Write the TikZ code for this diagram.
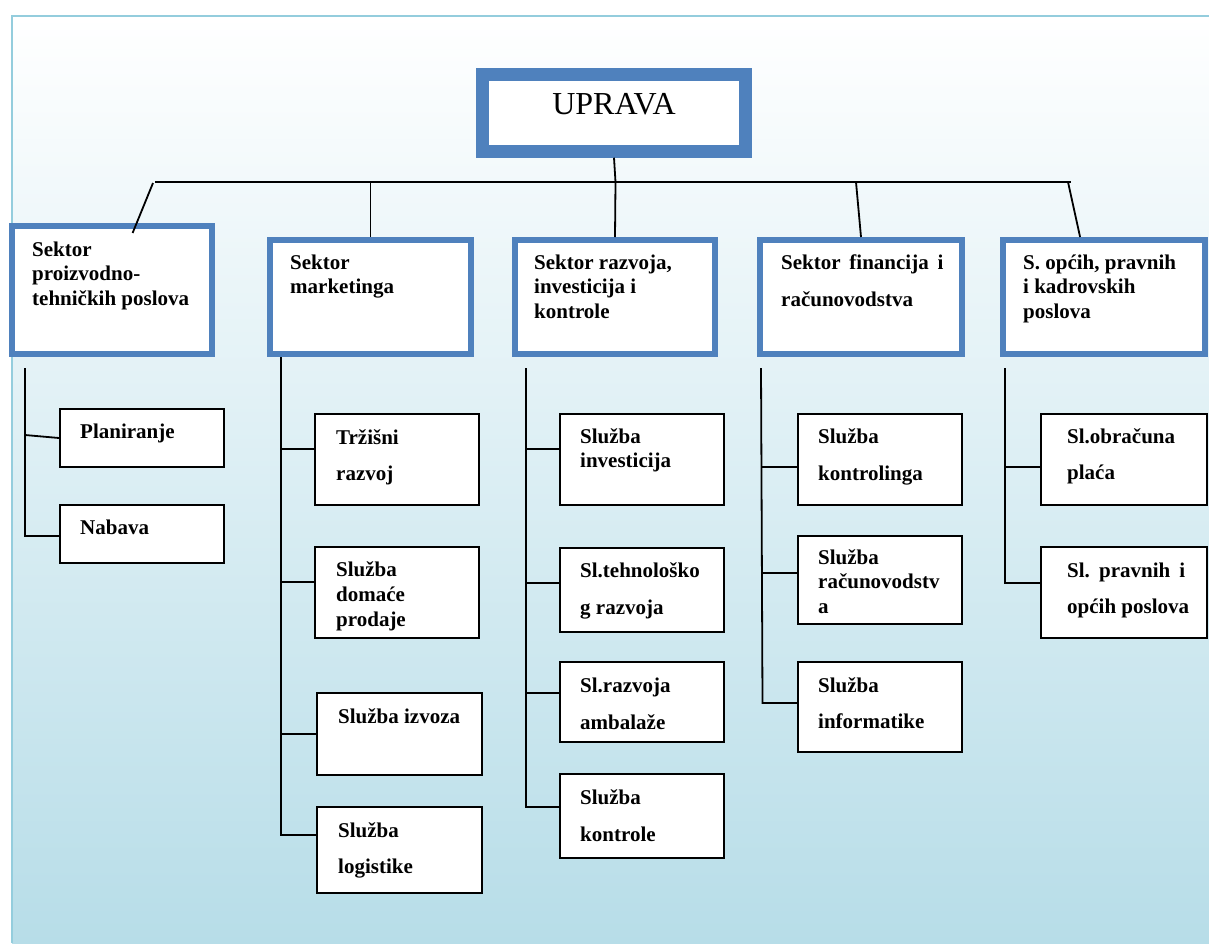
\documentclass[tikz,border=0pt]{standalone}
\usepackage{fontspec}
\setmainfont{Liberation Serif}
\usetikzlibrary{calc}
\definecolor{secblue}{HTML}{4F81BD}
\definecolor{framec}{HTML}{94CDDD}
\definecolor{bgbot}{HTML}{B7DDE8}
\frenchspacing
\begin{document}
\begin{tikzpicture}[x=1pt,y=-1pt,
  topbox/.style={draw=secblue, line width=13pt, fill=white, inner sep=0pt},
  secbox/.style={draw=secblue, line width=6pt, fill=white, inner sep=0pt},
  subbox/.style={draw=black, line width=2pt, fill=white, inner sep=0pt},
  lbl/.style={anchor=base west, inner sep=0pt, align=left, font=\fontsize{21}{24.7}\selectfont\bfseries},
  conn/.style={draw=black, line width=1.8pt}]
\useasboundingbox (0,0) rectangle (1209,943);
\fill[white] (0,0) rectangle (1209,943);
\shade[top color=white, bottom color=bgbot] (12,16) rectangle (1230,943);
\draw[framec, line width=2.2pt] (12,943) -- (12,16) -- (1230,16);

% top
\node[topbox, minimum width=263pt, minimum height=76.7pt] (upr) at (614,112.9) {};
\node[anchor=base, inner sep=0pt, font=\fontsize{32}{36}\selectfont] (uprt) at (614,114) {UPRAVA};

% sectors
\node[secbox, minimum width=200pt, minimum height=128pt] (s1) at (112,290) {};
\node[secbox, minimum width=201pt, minimum height=114pt] (s2) at (370.5,297) {};
\node[secbox, minimum width=200pt, minimum height=114pt] (s3) at (615,297) {};
\node[secbox, minimum width=202pt, minimum height=114pt] (s4) at (861,297) {};
\node[secbox, minimum width=202pt, minimum height=114pt] (s5) at (1104,297) {};

% (label positions are the baseline of the last line)
\node[lbl] (s1t) at (32,305.4) {Sektor\\proizvodno-\\tehničkih poslova};
\node[lbl] (s2t) at (290,293.7) {Sektor\\marketinga};
\node[lbl] (s3t) at (534,318.4) {Sektor razvoja,\\investicija i\\kontrole};
\node[lbl] (s4t) at (781,306) {Sektor\hspace{3.5pt} financija\hspace{3.5pt} i\\[12.3pt]računovodstva};
\node[lbl] (s5t) at (1023,318.4) {S. općih, pravnih\\i kadrovskih\\poslova};

% sub boxes
\node[subbox, minimum width=164pt, minimum height=58pt] (p1) at (142,438) {};
\node[subbox, minimum width=164pt, minimum height=58pt] (p2) at (142,534) {};
\node[subbox, minimum width=164pt, minimum height=91pt] (m1) at (397,459.5) {};
\node[subbox, minimum width=164pt, minimum height=91pt] (m2) at (397,592.5) {};
\node[subbox, minimum width=165pt, minimum height=82pt] (m3) at (399.5,734) {};
\node[subbox, minimum width=165pt, minimum height=86pt] (m4) at (399.5,850) {};
\node[subbox, minimum width=164pt, minimum height=91pt] (r1) at (642,459.5) {};
\node[subbox, minimum width=164pt, minimum height=84pt] (r2) at (642,590) {};
\node[subbox, minimum width=164pt, minimum height=80pt] (r3) at (642,702) {};
\node[subbox, minimum width=164pt, minimum height=84pt] (r4) at (642,816) {};
\node[subbox, minimum width=164pt, minimum height=91pt] (f1) at (880,459.5) {};
\node[subbox, minimum width=164pt, minimum height=88pt] (f2) at (880,580) {};
\node[subbox, minimum width=164pt, minimum height=90pt] (f3) at (880,707) {};
\node[subbox, minimum width=166pt, minimum height=91pt] (o1) at (1124,459.5) {};
\node[subbox, minimum width=166pt, minimum height=91pt] (o2) at (1124,592.5) {};

\node[lbl] (p1t) at (80,438) {Planiranje};
\node[lbl] (p2t) at (80,534) {Nabava};
\node[lbl] (m1t) at (336,480.7) {Tržišni\\[12pt]razvoj};
\node[lbl] (m2t) at (336,626.1) {Služba\\domaće\\prodaje};
\node[lbl] (m3t) at (338,723) {Služba izvoza};
\node[lbl] (m4t) at (338,873.7) {Služba\\[12pt]logistike};
\node[lbl] (r1t) at (580,467.7) {Služba\\investicija};
\node[lbl] (r2t) at (580,614) {Sl.tehnološko\\[12.3pt]g razvoja};
\node[lbl] (r3t) at (580,729) {Sl.razvoja\\[12.3pt]ambalaže};
\node[lbl] (r4t) at (580,841) {Služba\\[12.3pt]kontrole};
\node[lbl] (f1t) at (818,480) {Služba\\[12.3pt]kontrolinga};
\node[lbl] (f2t) at (818,613.4) {Služba\\računovodstv\\a};
\node[lbl] (f3t) at (818,728.7) {Služba\\[12pt]informatike};
\node[lbl] (o1t) at (1067,479.7) {Sl.obračuna\\[12pt]plaća};
\node[lbl] (o2t) at (1067,613.7) {Sl.\hspace{3.9pt} pravnih\hspace{3.9pt} i\\[12pt]općih poslova};

% bus and sector connectors
\coordinate (busL) at (155,182);
\coordinate (busR) at (1071,182);
\coordinate (b1) at (153,183);
\coordinate (s1in) at ($(s1.north west)!0.6!(s1.north east)+(0,10)$);
\coordinate (bus3) at (615.5,182);
\coordinate (bus4) at (856,182);
\coordinate (bus5) at (1068,182);
\coordinate (s5in) at ($(s5.north west)!0.385!(s5.north east)$);
\draw[conn] (busL) -- (busR);
\draw[conn] (b1) -- (s1in);
\draw[conn] (s2.north |- busL) -- (s2.north);
\draw[conn] (upr.south) -- (bus3) -- (s3.north);
\draw[conn] (bus4) -- (s4.north);
\draw[conn] (bus5) -- (s5in);

% trunk 1
\coordinate (t1a) at (25,368);
\coordinate (t1b) at (25,536);
\coordinate (t1c) at (25,435);
\draw[conn] (t1a) -- (t1b) -- (t1b -| p2.west);
\draw[conn] (t1c) -- (p1.west);

% trunk 2
\coordinate (t2a) at (281,357);
\coordinate (t2x1) at (281,449);
\coordinate (t2x2) at (281,582);
\coordinate (t2x3) at (281,734);
\coordinate (t2x4) at (281,835);
\draw[conn] (t2a) -- (t2x4) -- (t2x4 -| m4.west);
\draw[conn] (t2x1) -- (t2x1 -| m1.west);
\draw[conn] (t2x2) -- (t2x2 -| m2.west);
\draw[conn] (t2x3) -- (t2x3 -| m3.west);

% trunk 3
\coordinate (t3a) at (526,368);
\coordinate (t3x1) at (526,449);
\coordinate (t3x2) at (526,583);
\coordinate (t3x3) at (526,693);
\coordinate (t3x4) at (526,807);
\draw[conn] (t3a) -- (t3x4) -- (t3x4 -| r4.west);
\draw[conn] (t3x1) -- (t3x1 -| r1.west);
\draw[conn] (t3x2) -- (t3x2 -| r2.west);
\draw[conn] (t3x3) -- (t3x3 -| r3.west);

% trunk 4
\coordinate (t4a) at (761,368);
\coordinate (t4x1) at (761.5,467);
\coordinate (t4x2) at (762,573);
\coordinate (t4x3) at (762.5,703);
\draw[conn] (t4a) -- (t4x3) -- (t4x3 -| f3.west);
\draw[conn] (t4x1) -- (t4x1 -| f1.west);
\draw[conn] (t4x2) -- (t4x2 -| f2.west);

% trunk 5
\coordinate (t5a) at (1005,368);
\coordinate (t5x1) at (1005,467);
\coordinate (t5x2) at (1005,583);
\draw[conn] (t5a) -- (t5x2) -- (t5x2 -| o2.west);
\draw[conn] (t5x1) -- (t5x1 -| o1.west);
\end{tikzpicture}
\end{document}
